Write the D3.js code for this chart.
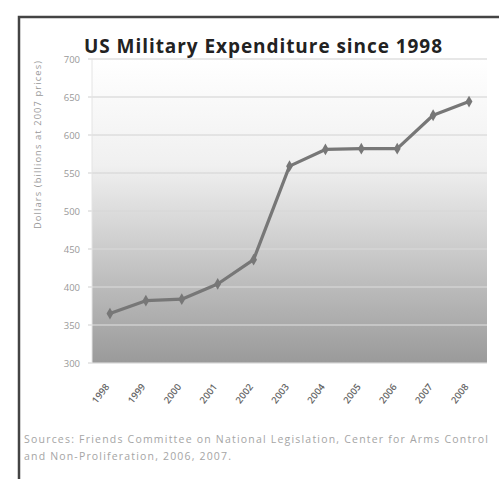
<!DOCTYPE html>
<html><head><meta charset="utf-8">
<script src="https://cdn.jsdelivr.net/npm/d3@7"></script>
<style>body{margin:0;background:#fff}</style>
</head><body>
<script>
const years = ["1998","1999","2000","2001","2002","2003","2004","2005","2006","2007","2008"];
const spending = [365, 382, 384, 404, 436, 559, 581, 582, 582, 626, 644];
const yTicks = [300,350,400,450,500,550,600,650,700];
const titleText = "US Military Expenditure since 1998";
const yTitle = "Dollars (billions at 2007 prices)";
const sourceLines = ["Sources: Friends Committee on National Legislation, Center for Arms Control",
                     "and Non-Proliferation, 2006, 2007."];

const W=499,H=479;
const svg=d3.select("body").append("svg").attr("width",W).attr("height",H);
const m={l:92,r:487,t:59,b:363};
const x=d3.scaleBand().domain(years).range([m.l,m.r]);
const y=d3.scaleLinear().domain([300,700]).range([m.b,m.t]);

// frame
svg.append("path").attr("d",`M19,${H} V17 H${W}`).attr("fill","none").attr("stroke","#444").attr("stroke-width",2.5);

const defs=svg.append("defs");
const g=defs.append("linearGradient").attr("id","bg").attr("x1",0).attr("y1",0).attr("x2",0).attr("y2",1);
g.append("stop").attr("offset","0%").attr("stop-color","#ffffff");
g.append("stop").attr("offset","35%").attr("stop-color","#f0f0f0");
g.append("stop").attr("offset","100%").attr("stop-color","#9a9a9a");
svg.append("rect").attr("x",m.l).attr("y",m.t).attr("width",m.r-m.l).attr("height",m.b-m.t).attr("fill","url(#bg)");

// grid
svg.append("g").selectAll("line").data(yTicks).join("line")
  .attr("x1",m.l-4).attr("x2",m.r).attr("y1",d=>y(d)).attr("y2",d=>y(d))
  .attr("stroke","#d8d8d8").attr("stroke-width",1.5).attr("opacity",0.8);
svg.append("line").attr("x1",m.l).attr("x2",m.l).attr("y1",m.t).attr("y2",m.b).attr("stroke","#e4e4e4");

// y axis
const ya=svg.append("g").attr("transform",`translate(${m.l},0)`).call(d3.axisLeft(y).tickValues(yTicks).tickSize(0).tickPadding(12));
ya.select(".domain").remove();
ya.selectAll("text").attr("font-family","Open Sans, sans-serif").attr("font-size",9.5).attr("fill","#999");

// x axis
const xa=svg.append("g").attr("transform",`translate(0,${m.b})`).call(d3.axisBottom(x).tickSize(0).tickPadding(0));
xa.select(".domain").remove();
xa.selectAll("text").attr("font-family","Open Sans, sans-serif").attr("font-size",9.5).attr("font-weight","600").attr("fill","#666")
  .attr("text-anchor","end").attr("dy",0).attr("transform","translate(0,24) rotate(-52)");

// line
const line=d3.line().x((d,i)=>x(years[i])+x.bandwidth()/2).y(d=>y(d));
svg.append("path").datum(spending).attr("d",line).attr("fill","none").attr("stroke","#777").attr("stroke-width",3.2).attr("stroke-linejoin","round");
svg.append("g").selectAll("path").data(spending).join("path")
  .attr("d",d3.symbol(d3.symbolDiamond,40))
  .attr("transform",(d,i)=>`translate(${x(years[i])+x.bandwidth()/2},${y(d)})`)
  .attr("fill","#777");

// title
svg.append("text").attr("x",263).attr("y",53).attr("text-anchor","middle")
  .attr("font-family","Open Sans, sans-serif").attr("font-weight","700").attr("font-size",19).attr("fill","#222").attr("textLength",358).text(titleText);

// y title
svg.append("text").attr("transform","translate(41,145) rotate(-90)").attr("text-anchor","middle")
  .attr("font-family","Open Sans, sans-serif").attr("font-size",9.3).attr("fill","#999").attr("textLength",168).text(yTitle);

// source
svg.append("g").selectAll("text").data(sourceLines).join("text")
  .attr("x",24).attr("y",(d,i)=>443+i*16.5)
  .attr("font-family","Open Sans, sans-serif").attr("font-size",10.5).attr("fill","#a5a5a5")
  .attr("textLength",(d,i)=>i===0?464:207).text(d=>d);
</script>
</body></html>
